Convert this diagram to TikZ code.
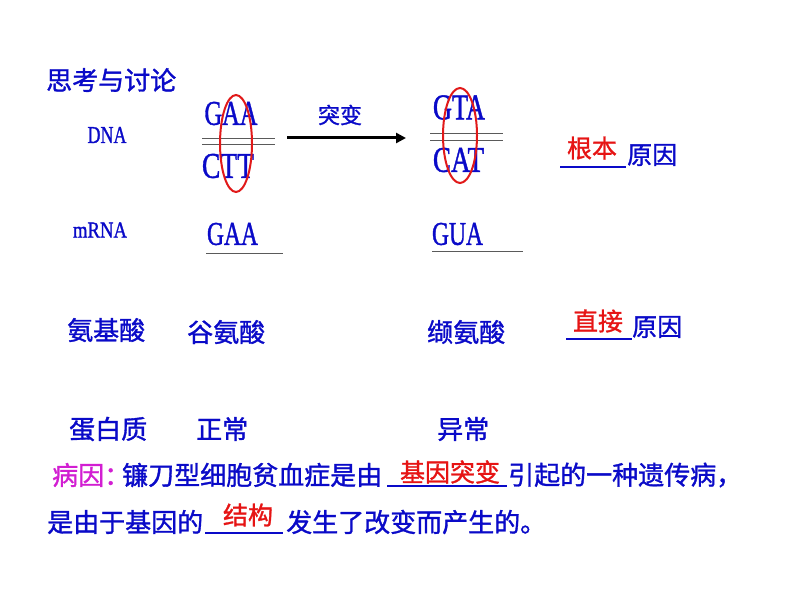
\documentclass[tikz,border=0pt]{standalone}
\usepackage{fontspec}
\usepackage{graphicx}
\setmainfont{Liberation Serif}[FakeBold=1.2,AutoFakeBold=1.2]
\newfontfamily\latb{Liberation Serif}[FakeBold=1.3]
\newfontfamily\cjk{Noto Sans CJK SC}[FakeBold=1.2]
\usetikzlibrary{arrows.meta,shapes.geometric}
\definecolor{tblue}{RGB}{10,10,200}
\definecolor{tred}{RGB}{230,20,20}
\definecolor{tmag}{RGB}{210,30,210}
\definecolor{ered}{RGB}{225,25,25}
\definecolor{lgray}{RGB}{90,90,90}
\newcommand{\cod}[3]{\resizebox{#1pt}{#2pt}{\latb #3}}
\tikzset{
  cn/.style={inner sep=0pt, anchor=west, text=tblue, font=\cjk\fontsize{26}{30}\selectfont},
  cnred/.style={inner sep=0pt, anchor=center, text=tred, font=\cjk\fontsize{25}{30}\selectfont},
  lat/.style={inner sep=0pt, anchor=center, text=tblue},
  blank/.style={draw=tblue, line width=1.2pt},
  gline/.style={draw=lgray, line width=1pt},
  oval/.style={draw=ered, line width=2pt},
  mutarrow/.style={draw=black, line width=3pt, -{Triangle[length=10pt,width=10pt]}}
}
\begin{document}
\begin{tikzpicture}[x=1pt,y=-1pt]
\useasboundingbox (0,0) rectangle (794,596);
\fill[white] (0,0) rectangle (794,596);
% title
\node[cn] (title) at (46,80) {思考与讨论};
% DNA row
\node[lat] (dna) at (107,135) {\cod{39}{16}{DNA}};
\node[lat] (gaa1) at (231,113.5) {\cod{53}{23}{GAA}};
\node[lat] (ctt) at (228,166) {\cod{52}{24}{CTT}};
\coordinate (l1a) at (202,139); \coordinate (l1b) at (275,139);
\coordinate (l2a) at (202,145); \coordinate (l2b) at (275,145);
\draw[gline] (l1a) -- (l1b);
\draw[gline] (l2a) -- (l2b);
\node[oval, ellipse, minimum width=32pt, minimum height=97pt, inner sep=0pt] (ov1) at (236,143.5) {};
\node[inner sep=0pt, text=tblue, font=\cjk\fontsize{22}{26}\selectfont] (tubian) at (340,115) {突变};
\coordinate (arA) at (287,138); \coordinate (arB) at (406,138);
\draw[mutarrow] (arA) -- (arB);
\node[lat] (gta) at (459,107.5) {\cod{52}{24}{GTA}};
\node[lat] (cat) at (458.5,160) {\cod{51}{24}{CAT}};
\coordinate (r1a) at (430,134); \coordinate (r1b) at (503,134);
\coordinate (r2a) at (430,141); \coordinate (r2b) at (503,141);
\draw[gline] (r1a) -- (r1b);
\draw[gline] (r2a) -- (r2b);
\node[oval, ellipse, minimum width=34pt, minimum height=95pt, inner sep=0pt] (ov2) at (460,135.5) {};
\node[cnred] (genben) at (592,148) {根本};
\coordinate (u1a) at (560,167); \coordinate (u1b) at (626,167);
\draw[blank] (u1a) -- (u1b);
\node[cn, font=\cjk\fontsize{25}{30}\selectfont] (yuanyin1) at (627,155) {原因};
% mRNA row
\node[lat] (mrna) at (100,230) {\cod{54}{15}{mRNA}};
\node[lat] (gaa2) at (232.5,234) {\cod{51}{22}{GAA}};
\coordinate (u2a) at (206,253); \coordinate (u2b) at (283,253);
\draw[gline] (u2a) -- (u2b);
\node[lat] (gua) at (457.5,234) {\cod{51}{22}{GUA}};
\coordinate (u3a) at (432,251); \coordinate (u3b) at (523,251);
\draw[gline] (u3a) -- (u3b);
% amino acid row
\node[cn] (ajs) at (67,330) {氨基酸};
\node[cn] (gas) at (187,332) {谷氨酸};
\node[cn] (xas) at (427,332) {缬氨酸};
\node[cnred] (zhijie) at (598,321) {直接};
\coordinate (u4a) at (566,339); \coordinate (u4b) at (632,339);
\draw[blank] (u4a) -- (u4b);
\node[cn, font=\cjk\fontsize{25}{30}\selectfont] (yuanyin2) at (632,327) {原因};
% protein row
\node[cn] (dbz) at (69,429) {蛋白质};
\node[cn] (zc) at (196,429) {正常};
\node[cn] (yc) at (437,429) {异常};
% cause sentence
\node[cn, text=tmag] (bingyin) at (52,475) {病因：};
\node[cn] (s1) at (122,475) {镰刀型细胞贫血症是由};
\coordinate (u5a) at (387,486); \coordinate (u5b) at (507,486);
\draw[blank] (u5a) -- (u5b);
\node[cnred] (jytb) at (450,472) {基因突变};
\node[cn] (s2) at (508,475) {引起的一种遗传病，};
\node[cn] (s3) at (47,522) {是由于基因的};
\coordinate (u6a) at (205,533); \coordinate (u6b) at (283,533);
\draw[blank] (u6a) -- (u6b);
\node[cnred] (jiegou) at (248,515) {结构};
\node[cn] (s4) at (286,522) {发生了改变而产生的。};
\end{tikzpicture}
\end{document}
